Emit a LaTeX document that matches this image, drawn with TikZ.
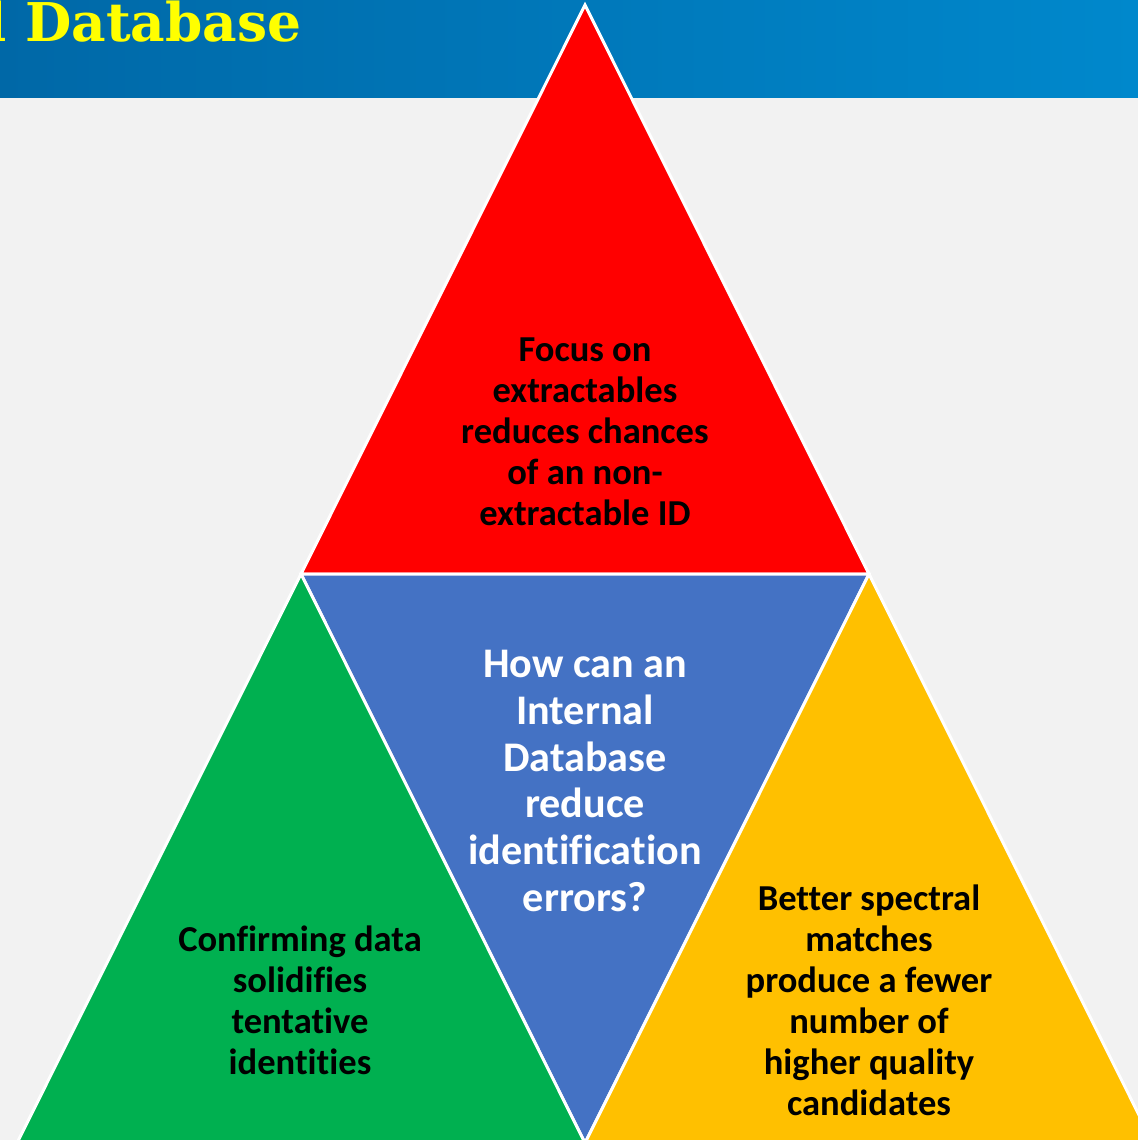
\documentclass[tikz,border=0pt]{standalone}
\usepackage{fontspec}
\setmainfont{Carlito}[Ligatures = {NoCommon, NoContextual}]
\newfontfamily\titlefont{DejaVu Serif}
\definecolor{bannerL}{HTML}{0068A7}
\definecolor{bannerR}{HTML}{0088CC}
\definecolor{paper}{HTML}{F2F2F2}
\definecolor{titleyel}{HTML}{FFFF00}
\definecolor{redtri}{HTML}{FF0000}
\definecolor{bluetri}{HTML}{4472C4}
\definecolor{greentri}{HTML}{00B050}
\definecolor{goldtri}{HTML}{FFC000}

\begin{document}
\begin{tikzpicture}[
    x = 0.02cm, y = -0.02cm,
    tri/.style = {draw = white, line width = 1.7pt, line join = miter},
    tritext/.style = {align = center, font = \fontsize{20.8}{23.3}\selectfont\bfseries, text = black},
    qtext/.style = {align = center, font = \fontsize{24}{26.7}\selectfont\bfseries, text = white}]

\useasboundingbox (0,0) rectangle (1138,1140);
\fill[paper] (0,0) rectangle (1138,1140);
\shade[left color = bannerL, right color = bannerR] (0,0) rectangle (1138,97);
\node[anchor = base west, inner sep = 0pt, text = titleyel,
      font = \fontsize{30.4}{32}\selectfont\titlefont\bfseries] (title) at (-14,41) {l Database};

\coordinate (apex) at (585,5);
\coordinate (ml) at (301,574);
\coordinate (mr) at (869,574);
\coordinate (bl) at (17,1143);
\coordinate (bm) at (585,1143);
\coordinate (br) at (1153,1143);

\begin{scope}
\clip (0,0) rectangle (1138,1140);
\filldraw[tri, fill = redtri] (apex) -- (ml) -- (mr) -- cycle;
\filldraw[tri, fill = bluetri] (ml) -- (mr) -- (bm) -- cycle;
\filldraw[tri, fill = greentri] (ml) -- (bl) -- (bm) -- cycle;
\filldraw[tri, fill = goldtri] (mr) -- (bm) -- (br) -- cycle;
\end{scope}

\path (585,432) node[tritext] (focus) {Focus on\\extractables\\reduces chances\\of an non-\\extractable ID}
      (585,781) node[qtext] (question) {How can an\\Internal\\Database\\reduce\\identification\\errors?}
      (300,1000) node[tritext] (confirm) {Confirming data\\solidifies\\tentative\\identities}
      (869,1000) node[tritext] (better) {Better spectral\\matches\\produce a fewer\\number of\\higher quality\\candidates};
\end{tikzpicture}
\end{document}
